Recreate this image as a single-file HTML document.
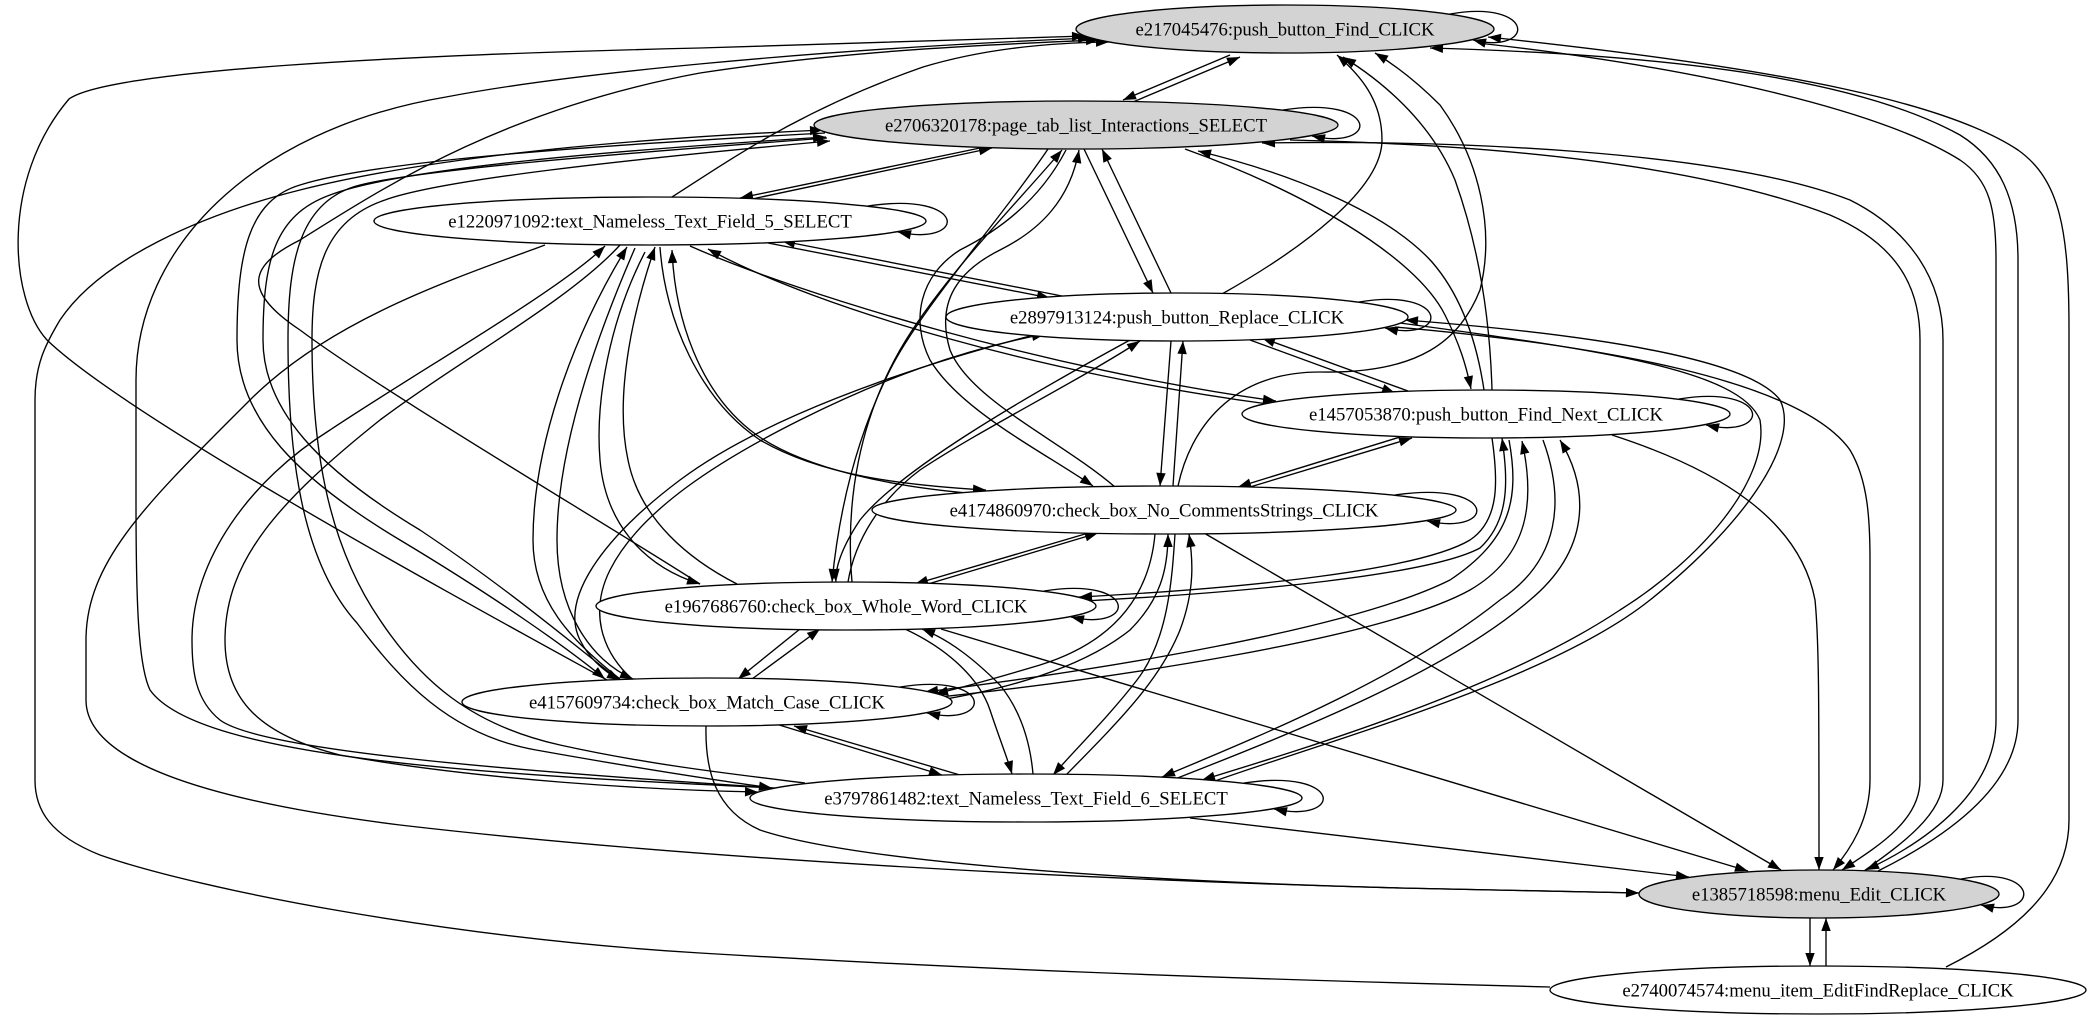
<!DOCTYPE html>
<html><head><meta charset="utf-8"><style>
html,body{margin:0;padding:0;background:#fff}
svg{display:block}
.e path{fill:none;stroke:#000;stroke-width:1.35}
text{font-family:"Liberation Serif","Times New Roman",serif;font-size:18.7px;text-anchor:middle;fill:#000}
ellipse{stroke:#000;stroke-width:1.35}
</style></head><body>
<svg width="2093" height="1019" viewBox="0 0 2093 1019" xmlns="http://www.w3.org/2000/svg">
<defs>
<marker id="a" markerUnits="userSpaceOnUse" markerWidth="14" markerHeight="10" refX="13" refY="5" orient="auto" viewBox="0 0 13 10"><path d="M0,0.3 L13,5 L0,9.7z" fill="#000"/></marker>
</defs>
<rect width="2093" height="1019" fill="#fff"/>
<g class="e">
<path marker-end="url(#a)" d="M1450,14 C1536,-1 1536,55 1473,40"/>
<path marker-end="url(#a)" d="M1230,55 L1123,100"/>
<path marker-end="url(#a)" d="M1133,102 L1240,57"/>
<path marker-end="url(#a)" d="M607,680 C480,610 130,420 47,340 C10,300 0,180 69,99 C110,70 400,55 700,48 L1085,36"/>
<path marker-end="url(#a)" d="M775,788 C500,775 200,760 150,690 C138,665 136,600 136,500 L136,380 C136,250 250,130 446,97 C560,75 800,50 1091,38"/>
<path marker-end="url(#a)" d="M700,584 C600,520 380,390 300,330 C240,290 250,265 300,240 C380,190 500,110 700,73 C850,50 1000,44 1099,40"/>
<path marker-end="url(#a)" d="M672,197 C730,160 800,110 923,67 C980,50 1040,43 1109,42"/>
<path marker-end="url(#a)" d="M1222,294 C1300,250 1382,190 1382,140 C1382,100 1360,75 1337,55"/>
<path marker-end="url(#a)" d="M1178,486 C1190,430 1230,372 1320,372 C1420,374 1460,340 1480,290 C1495,230 1480,160 1440,105 C1415,80 1395,65 1375,53"/>
<path marker-end="url(#a)" d="M1492,390 C1490,320 1480,250 1455,180 C1430,120 1380,80 1343,57"/>
<path marker-end="url(#a)" d="M1283,110 C1380,95 1380,151 1312,136"/>
<path marker-end="url(#a)" d="M980,148 L740,198"/>
<path marker-end="url(#a)" d="M752,199 L992,148"/>
<path marker-end="url(#a)" d="M825,133 C600,145 380,160 300,185 C250,200 237,250 237,340 C237,420 300,480 400,540 C500,600 570,650 605,679"/>
<path marker-end="url(#a)" d="M618,679 C580,650 510,590 420,530 C320,470 263,410 263,340 C263,260 275,215 330,195 C400,168 620,150 826,137"/>
<path marker-end="url(#a)" d="M827,138 C600,155 420,170 360,185 C300,200 288,260 288,340 C288,450 300,560 357,623 C400,680 450,735 536,750 C620,765 700,778 772,788"/>
<path marker-end="url(#a)" d="M805,783 C740,775 650,765 560,745 C470,725 420,680 380,620 C325,540 312,440 312,340 C312,270 325,220 385,200 C440,180 620,160 830,141"/>
<path marker-end="url(#a)" d="M1550,987 C1200,978 950,968 700,953 C450,938 200,890 100,855 C50,835 35,810 35,780 L35,400 C35,365 45,345 60,320 C100,260 200,215 300,190 C420,160 600,140 823,130"/>
<path marker-end="url(#a)" d="M1084,149 L1153,293"/>
<path marker-end="url(#a)" d="M1171,293 L1102,149"/>
<path marker-end="url(#a)" d="M1048,149 C1000,220 920,310 890,370 C860,430 840,500 832,582"/>
<path marker-end="url(#a)" d="M852,582 C845,500 860,420 900,350 C940,280 1020,200 1062,150"/>
<path marker-end="url(#a)" d="M1066,150 C1040,200 1000,230 960,250 C920,275 910,320 930,360 C960,410 1040,450 1093,486"/>
<path marker-end="url(#a)" d="M1115,487 C1060,440 970,400 950,350 C935,300 960,270 1000,250 C1040,230 1070,200 1079,150"/>
<path marker-end="url(#a)" d="M1185,149 C1300,190 1415,255 1445,315 C1460,345 1466,365 1471,389"/>
<path marker-end="url(#a)" d="M1484,390 C1478,350 1465,300 1432,262 C1385,210 1285,172 1198,151"/>
<path marker-end="url(#a)" d="M1290,140 C1500,145 1700,165 1830,215 C1900,245 1920,290 1920,340 L1920,780 C1920,820 1880,845 1842,870"/>
<path marker-end="url(#a)" d="M1864,871 C1900,845 1943,815 1943,780 L1943,340 C1943,280 1910,230 1850,200 C1720,150 1450,140 1262,143"/>
<path marker-end="url(#a)" d="M1478,43 C1700,68 1880,110 1960,160 C1990,180 1996,210 1996,260 L1996,720 C1996,790 1930,840 1866,870"/>
<path marker-end="url(#a)" d="M1878,871 C1960,830 2018,780 2018,720 L2018,260 C2018,200 2000,160 1960,135 C1860,80 1680,55 1430,48"/>
<path marker-end="url(#a)" d="M1946,967 C2010,935 2069,890 2069,820 L2069,330 C2069,230 2060,180 2018,150 C1950,105 1800,70 1488,37"/>
<path marker-end="url(#a)" d="M868,206 C968,191 968,247 898,232"/>
<path marker-end="url(#a)" d="M768,243 L1050,298"/>
<path marker-end="url(#a)" d="M1062,296 L782,241"/>
<path marker-end="url(#a)" d="M690,246 C800,295 1050,370 1276,401"/>
<path marker-end="url(#a)" d="M1268,404 C1050,375 820,310 708,249"/>
<path marker-end="url(#a)" d="M660,247 C665,320 700,400 760,440 C820,475 900,485 986,490"/>
<path marker-end="url(#a)" d="M980,494 C900,488 800,470 750,430 C700,390 675,320 672,250"/>
<path marker-end="url(#a)" d="M545,245 C450,280 330,320 250,400 C150,500 86,560 86,640 L86,700 C86,760 200,800 400,825 C700,860 1100,880 1400,888 L1639,893"/>
<path marker-end="url(#a)" d="M760,787 C500,770 260,750 220,720 C195,700 192,670 192,640 C192,560 250,480 330,430 C420,370 560,290 605,246"/>
<path marker-end="url(#a)" d="M620,245 C570,300 460,360 380,420 C280,500 225,560 225,640 C225,700 260,735 340,755 C480,780 650,790 758,792"/>
<path marker-end="url(#a)" d="M620,679 C570,640 533,600 533,540 C533,450 570,340 627,247"/>
<path marker-end="url(#a)" d="M635,248 C595,340 557,450 557,540 C557,610 590,660 633,679"/>
<path marker-end="url(#a)" d="M645,252 C610,320 595,400 600,460 C605,520 640,565 700,584"/>
<path marker-end="url(#a)" d="M737,584 C690,560 640,520 628,460 C615,400 630,320 655,247"/>
<path marker-end="url(#a)" d="M1359,302 C1450,287 1450,343 1385,328"/>
<path marker-end="url(#a)" d="M1250,340 L1395,393"/>
<path marker-end="url(#a)" d="M1408,391 L1262,338"/>
<path marker-end="url(#a)" d="M1171,341 L1160,486"/>
<path marker-end="url(#a)" d="M1173,486 L1183,341"/>
<path marker-end="url(#a)" d="M1130,340 C1020,400 900,470 860,520 C840,550 835,570 836,582"/>
<path marker-end="url(#a)" d="M848,582 C855,540 880,500 920,470 C980,430 1080,380 1140,341"/>
<path marker-end="url(#a)" d="M1030,336 C900,370 760,420 680,480 C600,540 560,600 580,640 C590,660 605,672 620,680"/>
<path marker-end="url(#a)" d="M632,679 C600,650 590,610 610,570 C640,510 720,460 800,420 C880,380 960,350 1045,334"/>
<path marker-end="url(#a)" d="M1395,327 C1600,345 1800,380 1850,450 C1868,480 1870,520 1870,560 L1870,780 C1870,820 1850,850 1833,870"/>
<path marker-end="url(#a)" d="M1400,323 C1600,350 1740,370 1760,420 C1770,480 1700,560 1620,610 C1500,690 1300,750 1202,780"/>
<path marker-end="url(#a)" d="M1215,781 C1330,740 1550,680 1650,600 C1750,520 1800,440 1780,400 C1750,360 1600,335 1405,320"/>
<path marker-end="url(#a)" d="M1679,399 C1772,384 1772,440 1706,425"/>
<path marker-end="url(#a)" d="M1400,437 L1238,487"/>
<path marker-end="url(#a)" d="M1250,487 L1412,438"/>
<path marker-end="url(#a)" d="M1492,438 C1498,480 1500,520 1470,540 C1420,570 1250,588 1079,597"/>
<path marker-end="url(#a)" d="M1085,601 C1250,592 1430,575 1480,548 C1510,520 1508,480 1502,438"/>
<path marker-end="url(#a)" d="M1509,440 C1520,500 1510,540 1450,580 C1350,630 1100,670 925,692"/>
<path marker-end="url(#a)" d="M930,698 C1100,680 1380,640 1470,590 C1530,555 1535,500 1522,441"/>
<path marker-end="url(#a)" d="M1543,440 C1565,500 1560,560 1500,600 C1400,680 1250,740 1162,777"/>
<path marker-end="url(#a)" d="M1175,779 C1300,730 1450,670 1530,600 C1590,550 1590,490 1560,440"/>
<path marker-end="url(#a)" d="M1612,435 C1720,470 1800,520 1815,600 C1819,640 1819,700 1819,870"/>
<path marker-end="url(#a)" d="M1395,495 C1498,480 1498,536 1427,521"/>
<path marker-end="url(#a)" d="M1085,534 L915,584"/>
<path marker-end="url(#a)" d="M928,584 L1098,533"/>
<path marker-end="url(#a)" d="M1155,534 C1150,590 1120,640 1040,665 C990,680 960,688 935,694"/>
<path marker-end="url(#a)" d="M940,700 C1000,690 1080,670 1130,630 C1160,600 1168,570 1168,534"/>
<path marker-end="url(#a)" d="M1066,775 C1120,720 1160,680 1180,630 C1195,590 1193,560 1189,534"/>
<path marker-end="url(#a)" d="M1175,534 C1172,580 1168,640 1137,680 C1110,715 1075,750 1053,775"/>
<path marker-end="url(#a)" d="M1204,533 L1781,870"/>
<path marker-end="url(#a)" d="M1044,591 C1138,576 1138,632 1071,617"/>
<path marker-end="url(#a)" d="M800,629 L738,679"/>
<path marker-end="url(#a)" d="M752,679 L820,629"/>
<path marker-end="url(#a)" d="M905,629 C950,650 980,680 990,710 C1000,740 1008,760 1012,774"/>
<path marker-end="url(#a)" d="M1033,774 C1030,740 1020,710 1000,685 C975,660 950,640 922,629"/>
<path marker-end="url(#a)" d="M941,629 L1748,871"/>
<path marker-end="url(#a)" d="M900,687 C994,672 994,728 927,713"/>
<path marker-end="url(#a)" d="M776,724 L942,775"/>
<path marker-end="url(#a)" d="M960,775 L794,726"/>
<path marker-end="url(#a)" d="M706,726 C705,770 715,810 760,830 C850,860 1100,880 1400,888 L1639,893"/>
<path marker-end="url(#a)" d="M1244,783 C1344,768 1344,824 1274,809"/>
<path marker-end="url(#a)" d="M1190,818 L1689,877"/>
<path marker-end="url(#a)" d="M1961,879 C2041,864 2041,920 1981,905"/>
<path marker-end="url(#a)" d="M1810,918 L1810,966"/>
<path marker-end="url(#a)" d="M1826,966 L1826,918"/>
</g>
<g>
<ellipse cx="1285" cy="29" rx="209" ry="24" fill="#d3d3d3"/>
<text x="1285" y="35.5">e217045476:push_button_Find_CLICK</text>
<ellipse cx="1076" cy="125" rx="262" ry="24" fill="#d3d3d3"/>
<text x="1076" y="131.5">e2706320178:page_tab_list_Interactions_SELECT</text>
<ellipse cx="650" cy="221" rx="276" ry="24" fill="#fff"/>
<text x="650" y="227.5">e1220971092:text_Nameless_Text_Field_5_SELECT</text>
<ellipse cx="1177" cy="317" rx="231" ry="24" fill="#fff"/>
<text x="1177" y="323.5">e2897913124:push_button_Replace_CLICK</text>
<ellipse cx="1486" cy="414" rx="244" ry="24" fill="#fff"/>
<text x="1486" y="420.5">e1457053870:push_button_Find_Next_CLICK</text>
<ellipse cx="1164" cy="510" rx="292" ry="24" fill="#fff"/>
<text x="1164" y="516.5">e4174860970:check_box_No_CommentsStrings_CLICK</text>
<ellipse cx="846" cy="606" rx="250" ry="24" fill="#fff"/>
<text x="846" y="612.5">e1967686760:check_box_Whole_Word_CLICK</text>
<ellipse cx="707" cy="702" rx="245" ry="24" fill="#fff"/>
<text x="707" y="708.5">e4157609734:check_box_Match_Case_CLICK</text>
<ellipse cx="1026" cy="798" rx="276" ry="24" fill="#fff"/>
<text x="1026" y="804.5">e3797861482:text_Nameless_Text_Field_6_SELECT</text>
<ellipse cx="1819" cy="894" rx="180" ry="24" fill="#d3d3d3"/>
<text x="1819" y="900.5">e1385718598:menu_Edit_CLICK</text>
<ellipse cx="1818" cy="990" rx="268" ry="24" fill="#fff"/>
<text x="1818" y="996.5">e2740074574:menu_item_EditFindReplace_CLICK</text>
</g>
</svg>
</body></html>
